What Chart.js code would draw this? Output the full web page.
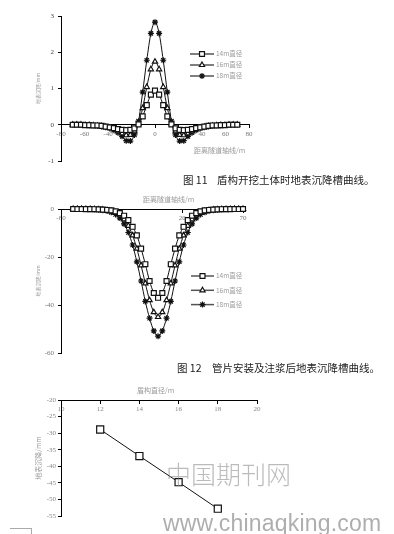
<!DOCTYPE html>
<html>
<head>
<meta charset="utf-8">
<script src="https://cdn.jsdelivr.net/npm/chart.js@4.4.1/dist/chart.umd.min.js"></script>
<style>
html,body{margin:0;padding:0;background:#fff;width:394px;height:534px;overflow:hidden;}
body{position:relative;font-family:"Noto Sans CJK SC",sans-serif;}
canvas{position:absolute;left:0;display:block;}
.t{position:absolute;white-space:nowrap;line-height:1;}
.axt{font-size:7px;color:#9a9a9a;}
.cap{font-size:10.5px;color:#222;}
.wm{pointer-events:none;}
</style>
</head>
<body>
<canvas id="c1" width="394" height="170" style="top:0px"></canvas>
<canvas id="c2" width="394" height="170" style="top:195px"></canvas>
<canvas id="c3" width="394" height="149" style="top:385px"></canvas>

<div class="t axt" style="left:194px;top:147px">距离隧道轴线/m</div>
<div class="t cap" style="left:183px;top:175px">图 11</div>
<div class="t cap" style="left:217px;top:175px">盾构开挖土体时地表沉降槽曲线。</div>

<div class="t axt" style="left:143px;top:196px">距离隧道轴线/m</div>
<div class="t cap" style="left:177px;top:363px">图 12</div>
<div class="t cap" style="left:212px;top:363px">管片安装及注浆后地表沉降槽曲线。</div>

<div class="t axt" style="left:137px;top:387px">盾构直径/m</div>

<div class="t wm" style="left:166px;top:461px;font-size:25px;font-weight:300;color:rgba(120,120,120,0.5);">中国期刊网</div>
<div class="t wm" style="left:163px;top:512px;font-size:23px;font-family:'Liberation Sans',sans-serif;color:rgba(120,120,120,0.6);letter-spacing:0.2px;">www.chinaqking.com</div>
<div style="position:absolute;left:10px;top:528px;width:21px;height:8px;border-top:1px solid #aaa;border-right:1px solid #aaa;"></div>

<script>
// ---------- data ----------
const seriesNames = ['14m直径', '16m直径', '18m直径'];

// distance from tunnel axis (m), shared by Fig.11 and Fig.12
const distanceFromAxis = [-70, -66.5, -63, -59.5, -56, -52.5, -49, -45.5, -42, -38.5, -35, -31.5, -28, -24.5, -21, -17.5, -14, -10.5, -7, -3.5, 0, 3.5, 7, 10.5, 14, 17.5, 21, 24.5, 28, 31.5, 35, 38.5, 42, 45.5, 49, 52.5, 56, 59.5, 63, 66.5, 70];

// Fig.11 surface settlement (mm)
const fig11Dia14 = [0, 0, 0, -0.01, -0.01, -0.02, -0.02, -0.03, -0.05, -0.07, -0.09, -0.12, -0.14, -0.15, -0.14, -0.10, 0.01, 0.23, 0.54, 0.83, 0.94, 0.83, 0.54, 0.23, 0.01, -0.10, -0.14, -0.15, -0.14, -0.12, -0.09, -0.07, -0.05, -0.03, -0.02, -0.02, -0.01, -0.01, 0, 0, 0];
const fig11Dia16 = [0, 0, 0, -0.01, -0.01, -0.02, -0.03, -0.04, -0.06, -0.09, -0.13, -0.18, -0.24, -0.29, -0.28, -0.18, 0.04, 0.46, 1.04, 1.53, 1.74, 1.53, 1.04, 0.46, 0.04, -0.18, -0.28, -0.29, -0.24, -0.18, -0.13, -0.09, -0.06, -0.04, -0.03, -0.02, -0.01, -0.01, 0, 0, 0];
const fig11Dia18 = [0, 0, -0.01, -0.01, -0.02, -0.02, -0.03, -0.05, -0.07, -0.10, -0.15, -0.22, -0.32, -0.44, -0.45, -0.28, 0.10, 0.90, 1.78, 2.52, 2.83, 2.52, 1.78, 0.90, 0.10, -0.28, -0.45, -0.44, -0.32, -0.22, -0.15, -0.10, -0.07, -0.05, -0.03, -0.02, -0.02, -0.01, -0.01, 0, 0];
const fig11YTicks = [-1, 0, 1, 2, 3];
const fig11XTicks = [-80, -60, -40, -20, 0, 20, 40, 60, 80];

// Fig.12 surface settlement (mm)
const fig12Dia14 = [0, -0.01, -0.02, -0.04, -0.06, -0.1, -0.15, -0.25, -0.4, -0.6, -1.0, -1.7, -2.8, -4.6, -7.4, -11, -16.5, -23, -30, -35, -37, -35, -30, -23, -16.5, -11, -7.4, -4.6, -2.8, -1.7, -1.0, -0.6, -0.4, -0.25, -0.15, -0.1, -0.06, -0.04, -0.02, -0.01, 0];
const fig12Dia16 = [0, -0.01, -0.02, -0.04, -0.07, -0.12, -0.2, -0.33, -0.55, -0.9, -1.5, -2.6, -4.3, -7, -11, -16.5, -23.5, -31, -38, -43, -45, -43, -38, -31, -23.5, -16.5, -11, -7, -4.3, -2.6, -1.5, -0.9, -0.55, -0.33, -0.2, -0.12, -0.07, -0.04, -0.02, -0.01, 0];
const fig12Dia18 = [0, -0.01, -0.03, -0.05, -0.1, -0.18, -0.3, -0.5, -0.8, -1.4, -2.3, -3.8, -6.2, -9.8, -15, -22, -30, -38.5, -45.5, -50.8, -53, -50.8, -45.5, -38.5, -30, -22, -15, -9.8, -6.2, -3.8, -2.3, -1.4, -0.8, -0.5, -0.3, -0.18, -0.1, -0.05, -0.03, -0.01, 0];
const fig12YTicks = [-60, -40, -20, 0];
const fig12XTicks = [-80, -30, 20, 70];
const fig12XTickLabels = ['-80', '', '20', '70'];

// Fig.13 max settlement vs shield diameter
const shieldDiameter = [12, 14, 16, 18];
const maxSettlement = [-28.9, -36.9, -44.8, -52.8];
const fig13YTicks = [-55, -50, -45, -40, -35, -30, -25, -20];
const fig13XTicks = [10, 12, 14, 16, 18, 20];

// ---------- helpers ----------
const toPoints = (xs, ys) => xs.map((x, i) => ({x: x, y: ys[i]}));
const tickFont = {family: "'Liberation Serif', serif", size: 7};
const tickColor = '#777';

const insideLegend = {
  id: 'insideLegend',
  afterDatasetsDraw(chart, args, opts) {
    if (!opts || opts.x === undefined) return;
    const ctx = chart.ctx;
    ctx.save();
    chart.data.datasets.forEach((ds, i) => {
      const y = opts.y + i * opts.dy;
      ctx.strokeStyle = '#555';
      ctx.lineWidth = 1.5;
      ctx.beginPath();
      ctx.moveTo(opts.x, y);
      ctx.lineTo(opts.x + opts.len, y);
      ctx.stroke();
      ctx.fillStyle = '#fff';
      ctx.strokeStyle = '#111';
      ctx.lineWidth = 1.2;
      Chart.helpers.drawPoint(ctx, {pointStyle: ds.pointStyle, radius: ds.pointRadius, rotation: 0, borderWidth: 1.2}, opts.x + opts.len / 2, y);
      ctx.fillStyle = '#9a9a9a';
      ctx.font = "6.5px 'Noto Sans CJK SC', sans-serif";
      ctx.textBaseline = 'middle';
      ctx.textAlign = 'left';
      ctx.fillText(ds.label, opts.x + opts.len + 2, y);
    });
    ctx.restore();
  }
};

function ds(label, pts, style, r) {
  return {
    label: label, data: pts, pointStyle: style, pointRadius: r,
    borderColor: '#111', borderWidth: 1, pointBorderColor: '#111', pointBorderWidth: 1.2,
    pointBackgroundColor: '#fff', backgroundColor: '#fff',
    cubicInterpolationMode: 'monotone', clip: false, fill: false
  };
}

function fixedTicks(values) {
  return s => { s.ticks = values.map(v => ({value: v})); };
}

function axisCommon(extra) {
  return Object.assign({
    type: 'linear',
    grid: {drawOnChartArea: false, drawTicks: true, tickLength: 3, color: '#000', lineWidth: 1},
    border: {color: '#000', width: 1},
  }, extra);
}

// ---------- Fig.11 ----------
new Chart(document.getElementById('c1'), {
  type: 'line',
  data: {datasets: [
    ds(seriesNames[0], toPoints(distanceFromAxis, fig11Dia14), 'rect', 3.5),
    ds(seriesNames[1], toPoints(distanceFromAxis, fig11Dia16), 'triangle', 3),
    ds(seriesNames[2], toPoints(distanceFromAxis, fig11Dia18), 'star', 3)
  ]},
  options: {
    responsive: false, animation: false, events: [],
    layout: {padding: {left: 0, right: 145, top: 16, bottom: 9}},
    plugins: {legend: {display: false}, tooltip: {enabled: false},
      insideLegend: {x: 190, y: 54, dy: 11, len: 24}},
    scales: {
      x: axisCommon({min: -80, max: 80, position: {y: 0}, afterBuildTicks: fixedTicks(fig11XTicks),
        ticks: {font: tickFont, color: tickColor, padding: 2, maxRotation: 0, autoSkip: false}}),
      y: axisCommon({min: -1, max: 3, afterBuildTicks: fixedTicks(fig11YTicks),
        ticks: {font: tickFont, color: '#444', padding: 4},
        title: {display: true, text: '地表沉降/mm', color: '#9a9a9a', font: {size: 5, family: "'Noto Sans CJK SC'"}, padding: {top: 35}},
        afterFit(s) { s.width = 61; }})
    }
  },
  plugins: [insideLegend]
});

// ---------- Fig.12 ----------
new Chart(document.getElementById('c2'), {
  type: 'line',
  data: {datasets: [
    ds(seriesNames[0], toPoints(distanceFromAxis, fig12Dia14), 'rect', 3.5),
    ds(seriesNames[1], toPoints(distanceFromAxis, fig12Dia16), 'triangle', 3),
    ds(seriesNames[2], toPoints(distanceFromAxis, fig12Dia18), 'star', 3)
  ]},
  options: {
    responsive: false, animation: false, events: [],
    layout: {padding: {left: 0, right: 151, top: 14, bottom: 12}},
    plugins: {legend: {display: false}, tooltip: {enabled: false},
      insideLegend: {x: 191, y: 81, dy: 14.3, len: 23}},
    scales: {
      x: axisCommon({min: -80, max: 70, position: {y: 0}, afterBuildTicks: fixedTicks(fig12XTicks),
        ticks: {font: tickFont, color: tickColor, padding: 2, maxRotation: 0, autoSkip: false,
          callback: (v, i) => fig12XTickLabels[i]}}),
      y: axisCommon({min: -60, max: 0, afterBuildTicks: fixedTicks(fig12YTicks),
        ticks: {font: tickFont, color: tickColor, padding: 4},
        title: {display: true, text: '地表沉降/mm', color: '#9a9a9a', font: {size: 5, family: "'Noto Sans CJK SC'"}, padding: {top: 35}},
        afterFit(s) { s.width = 61; }})
    }
  },
  plugins: [insideLegend]
});

// ---------- Fig.13 ----------
new Chart(document.getElementById('c3'), {
  type: 'line',
  data: {datasets: [
    Object.assign(ds('地表沉降', toPoints(shieldDiameter, maxSettlement), 'rect', 5), {tension: 0, cubicInterpolationMode: 'default'})
  ]},
  options: {
    responsive: false, animation: false, events: [],
    layout: {padding: {left: 0, right: 137, top: 15, bottom: 18}},
    plugins: {legend: {display: false}, tooltip: {enabled: false}},
    scales: {
      x: axisCommon({min: 10, max: 20, position: {y: -20}, afterBuildTicks: fixedTicks(fig13XTicks),
        ticks: {font: tickFont, color: '#888', padding: 2, maxRotation: 0, autoSkip: false}}),
      y: axisCommon({min: -55, max: -20, afterBuildTicks: fixedTicks(fig13YTicks),
        ticks: {font: tickFont, color: '#888', padding: 2},
        title: {display: true, text: '地表沉降/mm', color: '#9a9a9a', font: {size: 7, family: "'Noto Sans CJK SC'"}, padding: {top: 34}},
        afterFit(s) { s.width = 61; }})
    }
  }
});
</script>
</body>
</html>
